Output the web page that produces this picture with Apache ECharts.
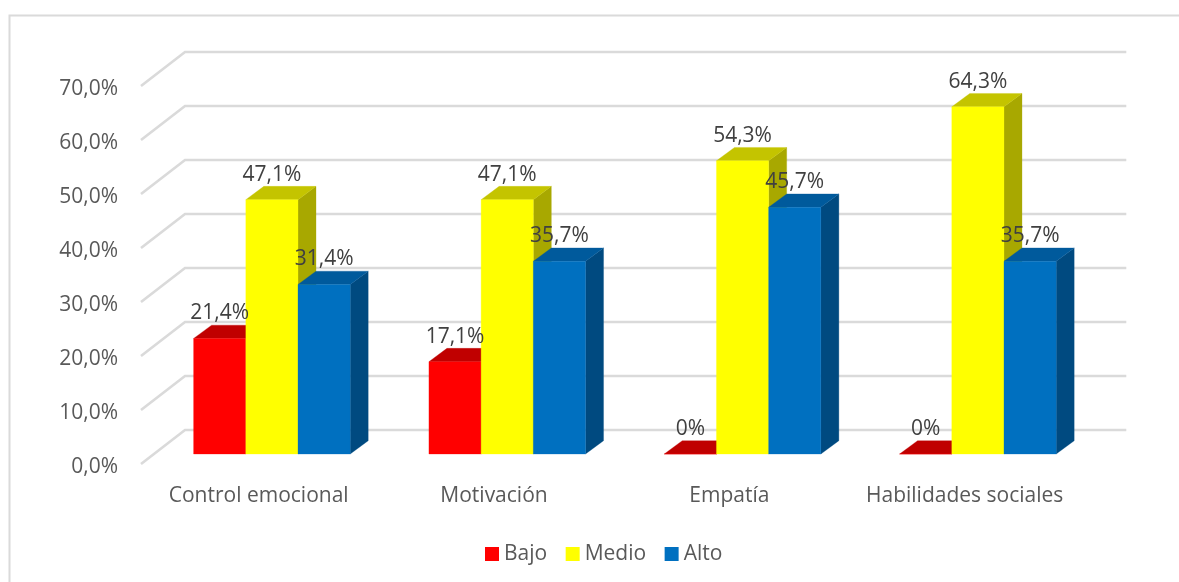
<!DOCTYPE html>
<html><head><meta charset="utf-8">
<style>html,body{margin:0;padding:0;background:#fff}#c{width:1179px;height:582px}</style>
<script src="https://cdn.jsdelivr.net/npm/echarts@6/dist/echarts.min.js"></script>
</head><body><div id="c"></div>
<script>
const categories = ['Control emocional','Motivación','Empatía','Habilidades sociales'];
const bajo  = [21.4,17.1,0,0];
const medio = [47.1,47.1,54.3,64.3];
const alto  = [31.4,35.7,45.7,35.7];
const yTicks = [0,10,20,30,40,50,60,70];
const names = ['Bajo','Medio','Alto'];
const FONT = '"Open Sans", sans-serif';
const colors = [
  {front:'#FF0000',top:'#C00000',side:'#A60000'},
  {front:'#FFFF00',top:'#C4C400',side:'#A8A800'},
  {front:'#0070C0',top:'#005A9C',side:'#004A80'}
];
const fmt = v => v === 0 ? '0%' : v.toFixed(1).replace('.',',') + '%';
const WALL = [44,-34], GAP = [13.25,-10], DEPTH = [18,-13.3], BAR_W = 52.2;

function barRender(k){
  return function(params, api){
    const c = api.coord([api.value(0), api.value(1)]);
    const b = api.coord([api.value(0), 0]);
    const x0 = c[0] + GAP[0] + (k-1.5)*BAR_W, x1 = x0 + BAR_W;
    const yt = c[1] + GAP[1], yb = b[1] + GAP[1];
    const dx = DEPTH[0], dy = DEPTH[1];
    const poly = (pts, fill) => ({type:'polygon', shape:{points:pts}, style:{fill, stroke:fill, lineWidth:0.3}});
    return {type:'group', children:[
      poly([[x1,yb],[x1+dx,yb+dy],[x1+dx,yt+dy],[x1,yt]], colors[k].side),
      poly([[x0,yt],[x0+dx,yt+dy],[x1+dx,yt+dy],[x1,yt]], colors[k].top),
      poly([[x0,yb],[x1,yb],[x1,yt],[x0,yt]], colors[k].front)
    ]};
  };
}
function labelRender(k){
  return function(params, api){
    const v = api.value(1);
    const c = api.coord([api.value(0), v]);
    return {type:'text', style:{
      x: c[0] + GAP[0] + (k-1)*BAR_W, y: c[1] + GAP[1] - 25,
      text: fmt(v), fill:'#404040', font:'21px ' + FONT, align:'center', verticalAlign:'middle'
    }};
  };
}
const wallSeries = {
  type:'custom', silent:true, z:1, data: yTicks.map(v=>[0,v]),
  renderItem(params, api){
    const cs = params.coordSys;
    const y = api.coord([0, api.value(1)])[1];
    const a = [cs.x, y], b = [cs.x+WALL[0], y+WALL[1]], d = [cs.x+cs.width+WALL[0], y+WALL[1]];
    return {type:'polyline', shape:{points:[a,b,d]}, style:{fill:null, stroke:'#DADADA', lineWidth:2.6}};
  }
};
const series = [wallSeries];
[bajo,medio,alto].forEach((vals,k)=>{
  series.push({name:names[k], type:'custom', z:2+k, silent:true,
    itemStyle:{color:colors[k].front},
    data: vals.map((v,i)=>[i,v]), renderItem: barRender(k)});
});
[bajo,medio,alto].forEach((vals,k)=>{
  series.push({type:'custom', z:10, silent:true,
    data: vals.map((v,i)=>[i,v]), renderItem: labelRender(k)});
});
const chart = echarts.init(document.getElementById('c'), null, {renderer:'canvas'});
chart.setOption({
  animation:false, backgroundColor:'#fff',
  graphic:[{type:'polyline', silent:true, z:0, shape:{points:[[1179,15.5],[9.5,15.5],[9.5,582]]},
    style:{fill:null, stroke:'#DADADA', lineWidth:2}}],
  legend:{data:names, left:485, top:543.5, padding:0, itemWidth:14, itemHeight:14, itemGap:18.5, icon:'rect',
    textStyle:{color:'#595959', fontFamily:FONT, fontSize:21}, selectedMode:false},
  grid:{left:141, right:96.7, top:86, bottom:118, containLabel:false},
  xAxis:{type:'category', data:categories, axisTick:{show:false}, axisLine:{show:false},
    axisLabel:{color:'#595959', fontFamily:FONT, fontSize:21, margin:22, interval:0}},
  yAxis:{type:'value', min:0, max:70, interval:10, axisLine:{show:false}, axisTick:{show:false},
    splitLine:{show:false},
    axisLabel:{color:'#595959', fontFamily:FONT, fontSize:21, margin:23, verticalAlign:'top', lineHeight:6,
      formatter:v=>v.toFixed(1).replace('.',',')+'%'}},
  series
});
</script></body></html>
